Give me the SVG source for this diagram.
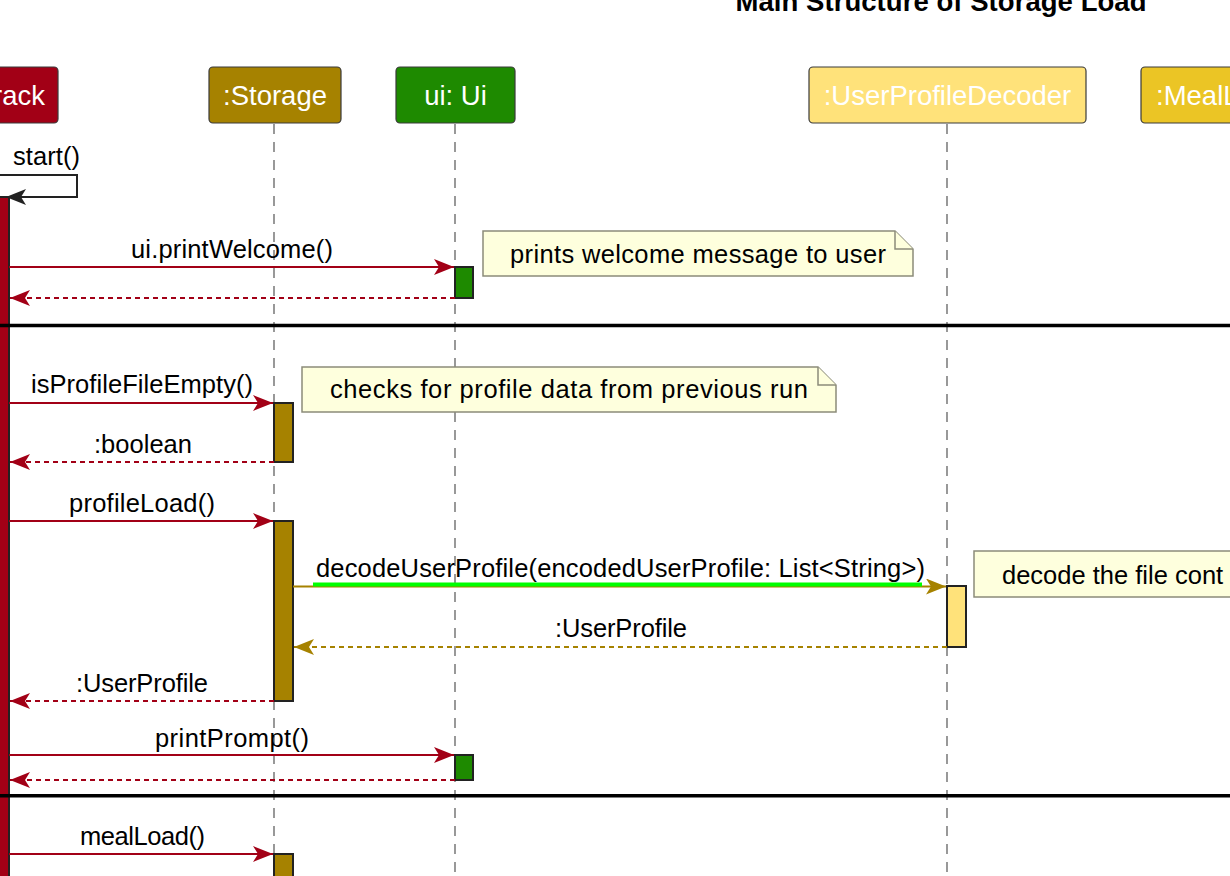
<svg xmlns="http://www.w3.org/2000/svg" width="1230" height="876" viewBox="0 0 1230 876">
<defs>
<style>
text{font-family:"Liberation Sans",Arial,sans-serif;}
.title{font-size:27.5px;font-weight:bold;fill:#000;}
.ptxt{font-size:27.5px;fill:#fff;text-anchor:middle;}
.msg{font-size:25.5px;fill:#000;}
.ntxt{font-size:25.5px;fill:#000;}
.pbox{stroke:#3a3a3a;stroke-width:1.2;}
.life{stroke:#555;stroke-width:1.2;stroke-dasharray:10,8;fill:none;}
.act{stroke:#222;stroke-width:2;}
.note{fill:#FEFFDD;stroke:#8c8c7a;stroke-width:1.5;}
.red{stroke:#A20016;stroke-width:2;fill:none;}
.olive{stroke:#A68200;stroke-width:2;fill:none;}
.dash{stroke-dasharray:5,4;}
.div{stroke:#000;stroke-width:3.5;}
</style>
<marker id="ahRed" markerUnits="userSpaceOnUse" markerWidth="22" markerHeight="18" refX="20" refY="8" orient="auto">
<path d="M0,0 L20,8 L0,16 L5,8 Z" fill="#A20016"/>
</marker>
<marker id="ahOlive" markerUnits="userSpaceOnUse" markerWidth="22" markerHeight="18" refX="20" refY="8" orient="auto">
<path d="M0,0 L20,8 L0,16 L5,8 Z" fill="#A68200"/>
</marker>
<marker id="ahBlack" markerUnits="userSpaceOnUse" markerWidth="22" markerHeight="18" refX="20" refY="8" orient="auto">
<path d="M0,0 L20,8 L0,16 L5,8 Z" fill="#222"/>
</marker>
</defs>
<rect x="0" y="0" width="1230" height="876" fill="#fff"/>
<text class="title" x="941" y="11" text-anchor="middle" textLength="411">Main Structure of Storage Load</text>

<g id="lifelines">
<line class="life" x1="274" y1="124" x2="274" y2="876"/>
<line class="life" x1="455" y1="124" x2="455" y2="876"/>
<line class="life" x1="947" y1="124" x2="947" y2="876"/>
</g>

<g id="participant-track">
<rect class="pbox" x="-12" y="67" width="70" height="56" rx="4" fill="#A20016"/>
<text class="ptxt" x="45" y="105" style="text-anchor:end">rack</text>
<rect class="act" x="-10" y="197" width="19" height="690" fill="#A20016"/>
</g>
<g id="participant-storage">
<rect class="pbox" x="209" y="67" width="132" height="56" rx="4" fill="#A68200"/>
<text class="ptxt" x="275" y="105">:Storage</text>
<rect class="act" x="274" y="403" width="19" height="59" fill="#A68200"/>
<rect class="act" x="274" y="521" width="19" height="180" fill="#A68200"/>
<rect class="act" x="274" y="854" width="19" height="40" fill="#A68200"/>
</g>
<g id="participant-ui">
<rect class="pbox" x="396" y="67" width="119" height="56" rx="4" fill="#1E8A00"/>
<text class="ptxt" x="455.5" y="105">ui: Ui</text>
<rect class="act" x="455" y="267" width="18" height="31" fill="#1E8A00"/>
<rect class="act" x="455" y="755" width="18" height="25" fill="#1E8A00"/>
</g>
<g id="participant-decoder">
<rect class="pbox" x="809" y="67" width="277" height="56" rx="4" fill="#FFE27A"/>
<text class="ptxt" x="947.5" y="105">:UserProfileDecoder</text>
<rect class="act" x="947" y="586" width="19" height="61" fill="#FFE27A"/>
</g>
<g id="participant-meal">
<rect class="pbox" x="1141" y="67" width="120" height="56" rx="4" fill="#EBC525"/>
<text class="ptxt" x="1156" y="105" style="text-anchor:start">:MealL</text>
</g>

<g id="connectors">
<polyline points="-5,175 77,175 77,197 6,197" fill="none" stroke="#222" stroke-width="2" marker-end="url(#ahBlack)"/>
<line class="red" x1="9" y1="267" x2="454" y2="267" marker-end="url(#ahRed)"/>
<line class="red dash" x1="455" y1="298" x2="10" y2="298" marker-end="url(#ahRed)"/>
<line class="red" x1="9" y1="403" x2="273" y2="403" marker-end="url(#ahRed)"/>
<line class="red dash" x1="274" y1="462" x2="10" y2="462" marker-end="url(#ahRed)"/>
<line class="red" x1="9" y1="521" x2="273" y2="521" marker-end="url(#ahRed)"/>
<line class="olive" x1="293" y1="586.5" x2="946" y2="586.5" marker-end="url(#ahOlive)"/>
<line x1="313" y1="584.5" x2="922" y2="584.5" stroke="#00FF00" stroke-width="4"/>
<line class="olive dash" x1="947" y1="647" x2="294" y2="647" marker-end="url(#ahOlive)"/>
<line class="red dash" x1="274" y1="701" x2="10" y2="701" marker-end="url(#ahRed)"/>
<line class="red" x1="9" y1="755" x2="454" y2="755" marker-end="url(#ahRed)"/>
<line class="red dash" x1="455" y1="780" x2="10" y2="780" marker-end="url(#ahRed)"/>
<line class="red" x1="9" y1="854" x2="273" y2="854" marker-end="url(#ahRed)"/>
</g>

<g id="labels">
<text class="msg" x="13" y="165" textLength="67">start()</text>
<text class="msg" x="131" y="258" textLength="202">ui.printWelcome()</text>
<text class="msg" x="31" y="393" textLength="222">isProfileFileEmpty()</text>
<text class="msg" x="94" y="453" textLength="98">:boolean</text>
<text class="msg" x="69" y="512" textLength="146">profileLoad()</text>
<text class="msg" x="316" y="577" textLength="609">decodeUserProfile(encodedUserProfile: List&lt;String&gt;)</text>
<text class="msg" x="555" y="637" textLength="132">:UserProfile</text>
<text class="msg" x="76" y="692" textLength="132">:UserProfile</text>
<text class="msg" x="155" y="747" textLength="154">printPrompt()</text>
<text class="msg" x="80" y="845" textLength="125">mealLoad()</text>
</g>

<g id="dividers">
<line class="div" x1="0" y1="325.5" x2="1230" y2="325.5"/>
<line class="div" x1="0" y1="795.7" x2="1230" y2="795.7"/>
</g>

<g id="note-welcome">
<path class="note" d="M483,231 L895,231 L913,249 L913,276 L483,276 Z"/>
<path class="note" d="M895,231 L895,249 L913,249" fill="none"/>
<text class="ntxt" x="510" y="263" textLength="376">prints welcome message to user</text>
</g>
<g id="note-checks">
<path class="note" d="M302,367 L818,367 L836,385 L836,412 L302,412 Z"/>
<path class="note" d="M818,367 L818,385 L836,385" fill="none"/>
<text class="ntxt" x="330" y="398" textLength="478">checks for profile data from previous run</text>
</g>
<g id="note-decode">
<path class="note" d="M974,551 L1240,551 L1240,597 L974,597 Z"/>
<text class="ntxt" x="1002" y="584">decode the file cont</text>
</g>
</svg>
